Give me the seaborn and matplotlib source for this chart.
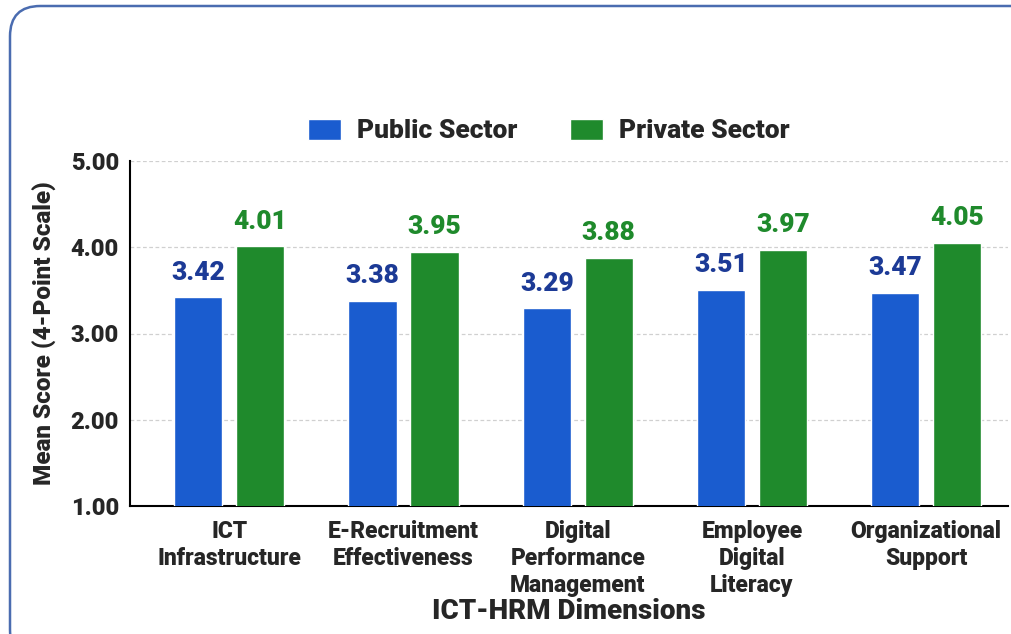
import matplotlib
matplotlib.use("Agg")
import matplotlib.pyplot as plt
import seaborn as sns
import pandas as pd
from matplotlib.patches import FancyBboxPatch

categories = ["ICT\nInfrastructure", "E-Recruitment\nEffectiveness",
              "Digital\nPerformance\nManagement", "Employee\nDigital\nLiteracy",
              "Organizational\nSupport"]
public_values = [3.42, 3.38, 3.29, 3.51, 3.47]
private_values = [4.01, 3.95, 3.88, 3.97, 4.05]
series_names = ["Public Sector", "Private Sector"]
y_ticks = [1.00, 2.00, 3.00, 4.00, 5.00]

bar_colors = ["#1a5ccf", "#1f8a2c"]
label_colors = ["#1c3a96", "#1f8a2c"]

df = pd.DataFrame({
    "Dimension": categories * 2,
    "Sector": [series_names[0]] * len(categories) + [series_names[1]] * len(categories),
    "Score": public_values + private_values,
})

sns.set_theme(style="white")
plt.rcParams["font.family"] = ["Roboto", "DejaVu Sans"]
plt.rcParams["font.weight"] = "bold"
WT = "heavy"

W, H = 1012, 634
fig = plt.figure(figsize=(W / 100, H / 100), dpi=100)
fig.patch.set_facecolor("white")

# rounded border
border = FancyBboxPatch((10 / W, 1 - 660 / H), 1040 / W, 654 / H,
                        boxstyle="round,pad=0,rounding_size=0.03",
                        transform=fig.transFigure, facecolor="none",
                        edgecolor="#4a6cb0", linewidth=1.8, zorder=0,
                        mutation_aspect=W / H)
fig.patches.append(border)

ax = fig.add_axes([130 / W, 1 - 506 / H, (1008 - 130) / W, (506 - 161) / H])
sns.barplot(data=df, x="Dimension", y="Score", hue="Sector",
            palette=bar_colors, width=0.71, gap=0.22, ax=ax,
            saturation=1, legend=True, zorder=3)

ax.set_ylim(1.0, 5.0)
ax.set_xlim(-0.57, 4.47)
ax.set_yticks(y_ticks)
ax.set_yticklabels([f"{v:.2f}" for v in y_ticks], fontsize=17, fontweight=WT)
ax.tick_params(axis="both", length=0, pad=8)
for lbl in ax.get_xticklabels():
    lbl.set_fontsize(16.5)
    lbl.set_fontweight(WT)
    lbl.set_linespacing(1.22)
    lbl.set_verticalalignment("top")
ax.tick_params(axis="x", pad=10)
ax.yaxis.grid(True, linestyle=(0, (3, 2)), color="#d0d0d0", linewidth=0.9, zorder=0)
ax.set_axisbelow(True)
for s in ["top", "right"]:
    ax.spines[s].set_visible(False)
for s in ["left", "bottom"]:
    ax.spines[s].set_color("black")
    ax.spines[s].set_linewidth(1.5)

ax.set_xlabel("ICT-HRM Dimensions", fontsize=20, fontweight=WT, labelpad=1)
ax.set_ylabel("Mean Score (4-Point Scale)", fontsize=17.5, fontweight=WT, labelpad=10)

for cont, col in zip(ax.containers, label_colors):
    ax.bar_label(cont, fmt="%.2f", padding=9, color=col, fontsize=19, fontweight=WT)

leg = ax.legend(loc="center", bbox_to_anchor=(0.477, (506 - 131) / 345), ncol=2, frameon=False,
                fontsize=19, handlelength=1.25, handleheight=0.85, columnspacing=2.0,
                handletextpad=0.6)
for t in leg.get_texts():
    t.set_fontweight(WT)

fig.savefig("out.png", dpi=100, facecolor="white")
